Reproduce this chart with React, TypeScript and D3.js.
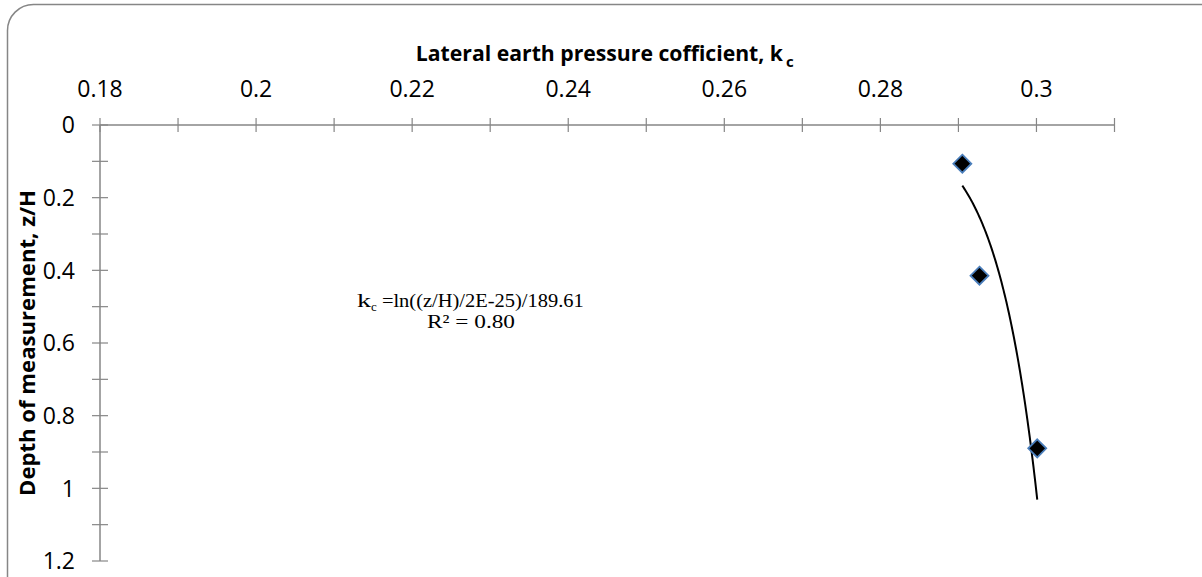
import React from "react";
import * as d3 from "d3";

const kcValues = [0.2905, 0.2927, 0.3001];
const depthValues = [0.1064, 0.4147, 0.89];
const xTicks = [0.18, 0.2, 0.22, 0.24, 0.26, 0.28, 0.3];
const yTicks = [0, 0.2, 0.4, 0.6, 0.8, 1, 1.2];
const trendA = 2e-25;
const trendB = 189.61;
const xTitle = "Lateral earth pressure cofficient, k";
const yTitle = "Depth of measurement, z/H";

export default function App() {
  const W = 1202, H = 577;
  const x = d3.scaleLinear().domain([0.18, 0.31]).range([100, 1114.5]);
  const y = d3.scaleLinear().domain([0, 1.2]).range([125, 561]);
  const axisColor = "#868686";
  const minorX = d3.range(0, 14).map((i) => 0.18 + i * 0.01);
  const minorY = d3.range(0, 13).map((i) => i * 0.1);

  const [k0, k1] = d3.extent(kcValues) as [number, number];
  const trendPts = d3.range(0, 101).map((i) => {
    const k = k0 + ((k1 - k0) * i) / 100;
    return [k, trendA * Math.exp(trendB * k)] as [number, number];
  });
  const line = d3
    .line<[number, number]>()
    .x((d) => x(d[0]))
    .y((d) => y(d[1]))
    .curve(d3.curveLinear);

  const font = "Open Sans, Lato, sans-serif";
  const serif = "Liberation Serif, Times New Roman, serif";
  const ms = 9;

  return (
    <svg
      width={W}
      height={H}
      style={{ position: "absolute", left: 0, top: 0, background: "#fff" }}
    >
      <rect x={7.5} y={4.5} width={1220} height={600} rx={26} ry={26} fill="#fff" stroke="#868686" strokeWidth={1.5} />
      {/* x axis */}
      <line x1={x(0.18)} x2={x(0.31)} y1={y(0)} y2={y(0)} stroke={axisColor} strokeWidth={1.5} />
      {minorX.map((t, i) => (
        <line key={"xt" + i} x1={x(t)} x2={x(t)} y1={y(0) - 7} y2={y(0) + 7} stroke={axisColor} strokeWidth={1.2} />
      ))}
      {xTicks.map((t, i) => (
        <text key={"xl" + i} x={x(t)} y={97} textAnchor="middle" fontFamily={font} fontSize={23} fill="#000">
          {String(+t.toFixed(2))}
        </text>
      ))}
      {/* y axis */}
      <line x1={x(0.18)} x2={x(0.18)} y1={y(0)} y2={y(1.2)} stroke={axisColor} strokeWidth={1.5} />
      {minorY.map((t, i) => (
        <line key={"yt" + i} x1={x(0.18) - 8} x2={x(0.18) + 8} y1={y(t)} y2={y(t)} stroke={axisColor} strokeWidth={1.2} />
      ))}
      {yTicks.map((t, i) => (
        <text key={"yl" + i} x={75} y={y(t)} dy="0.36em" textAnchor="end" fontFamily={font} fontSize={23} fill="#000">
          {String(+t.toFixed(2))}
        </text>
      ))}
      {/* titles */}
      <text x={783} y={61} textAnchor="end" fontFamily={font} fontWeight="bold" fontSize={21.2} fill="#000">
        {xTitle}
      </text>
      <text x={786} y={67} fontFamily={font} fontWeight="bold" fontSize={15} fill="#000">
        c
      </text>
      <text
        transform={`translate(35,${(y(0) + y(1.2)) / 2}) rotate(-90)`}
        textAnchor="middle"
        fontFamily={font}
        fontWeight="bold"
        fontSize={21}
        fill="#000"
        textLength={306}
        lengthAdjust="spacingAndGlyphs"
      >
        {yTitle}
      </text>
      {/* trendline */}
      <path d={line(trendPts) || ""} fill="none" stroke="#000" strokeWidth={2} />
      {/* points */}
      {kcValues.map((k, i) => {
        const cx = x(k), cy = y(depthValues[i]);
        return (
          <path
            key={"p" + i}
            d={`M${cx},${cy - ms}L${cx + ms},${cy}L${cx},${cy + ms}L${cx - ms},${cy}Z`}
            fill="#000"
            stroke="#4a7ebb"
            strokeWidth={1.8}
          />
        );
      })}
      {/* equation */}
      <text x={357} y={307} fontFamily={serif} fontSize={19} fill="#000">
        <tspan textLength={14} lengthAdjust="spacingAndGlyphs">k</tspan>
        <tspan fontSize={13} dy={4}>c</tspan>
        <tspan dy={-4} textLength={207} lengthAdjust="spacingAndGlyphs"> =ln((z/H)/2E-25)/189.61</tspan>
      </text>
      <text x={427} y={328} fontFamily={serif} fontSize={19} fill="#000" textLength={88} lengthAdjust="spacingAndGlyphs">
        R² = 0.80
      </text>
    </svg>
  );
}
